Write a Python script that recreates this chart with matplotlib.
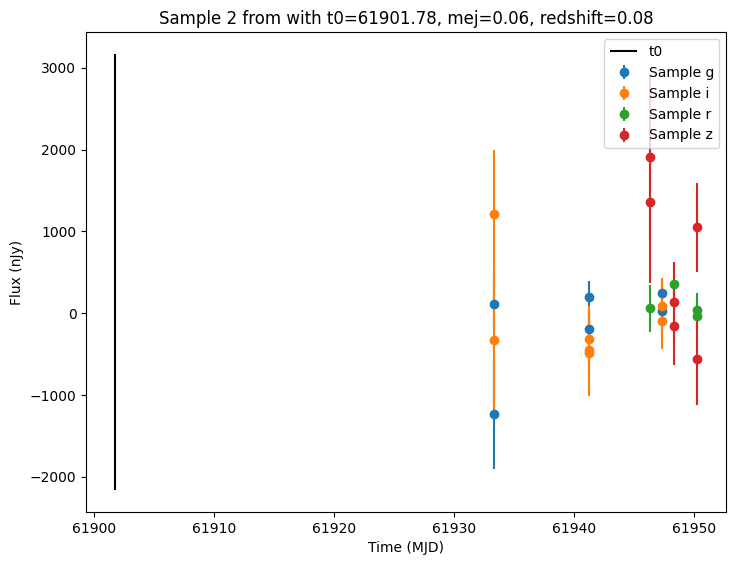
import matplotlib
matplotlib.use('Agg')
import matplotlib.pyplot as plt

# t0 marker and its vertical extent
t0 = 61901.78
t0_ymin = -2163
t0_ymax = 3171

# sample light curve per band
g_time = [61933.36, 61933.36, 61941.30, 61941.30, 61947.33, 61947.33]
g_flux = [113, -1228, 195, -195, 244, 32]
g_err = [300, 674, 200, 180, 150, 150]

i_time = [61933.36, 61933.36, 61941.30, 61941.30, 61941.30, 61947.33, 61947.33]
i_flux = [1220, -329, -317, -450, -490, 89, -94]
i_err = [780, 890, 400, 500, 520, 341, 338]

r_time = [61946.33, 61948.35, 61950.31, 61950.31]
r_flux = [61, 354, 40, -33]
r_err = [290, 250, 211, 200]

z_time = [61946.33, 61946.33, 61948.35, 61948.35, 61950.31, 61950.31]
z_flux = [1910, 1357, 134, -159, 1049, -561]
z_err = [1020, 985, 492, 480, 544, 566]

fig = plt.figure(figsize=(7.36, 5.65), dpi=100)
plt.subplots_adjust(left=0.117, right=0.987, top=0.943, bottom=0.094)

plt.vlines(t0, t0_ymin, t0_ymax, color='k', label='t0')
plt.errorbar(g_time, g_flux, yerr=g_err, fmt='o', label='Sample g')
plt.errorbar(i_time, i_flux, yerr=i_err, fmt='o', label='Sample i')
plt.errorbar(r_time, r_flux, yerr=r_err, fmt='o', label='Sample r')
plt.errorbar(z_time, z_flux, yerr=z_err, fmt='o', label='Sample z')

plt.title('Sample 2 from with t0=61901.78, mej=0.06, redshift=0.08')
plt.xlabel('Time (MJD)')
plt.ylabel('Flux (nJy)')
plt.legend(loc='upper right')

plt.savefig('out.png')
plt.close()
